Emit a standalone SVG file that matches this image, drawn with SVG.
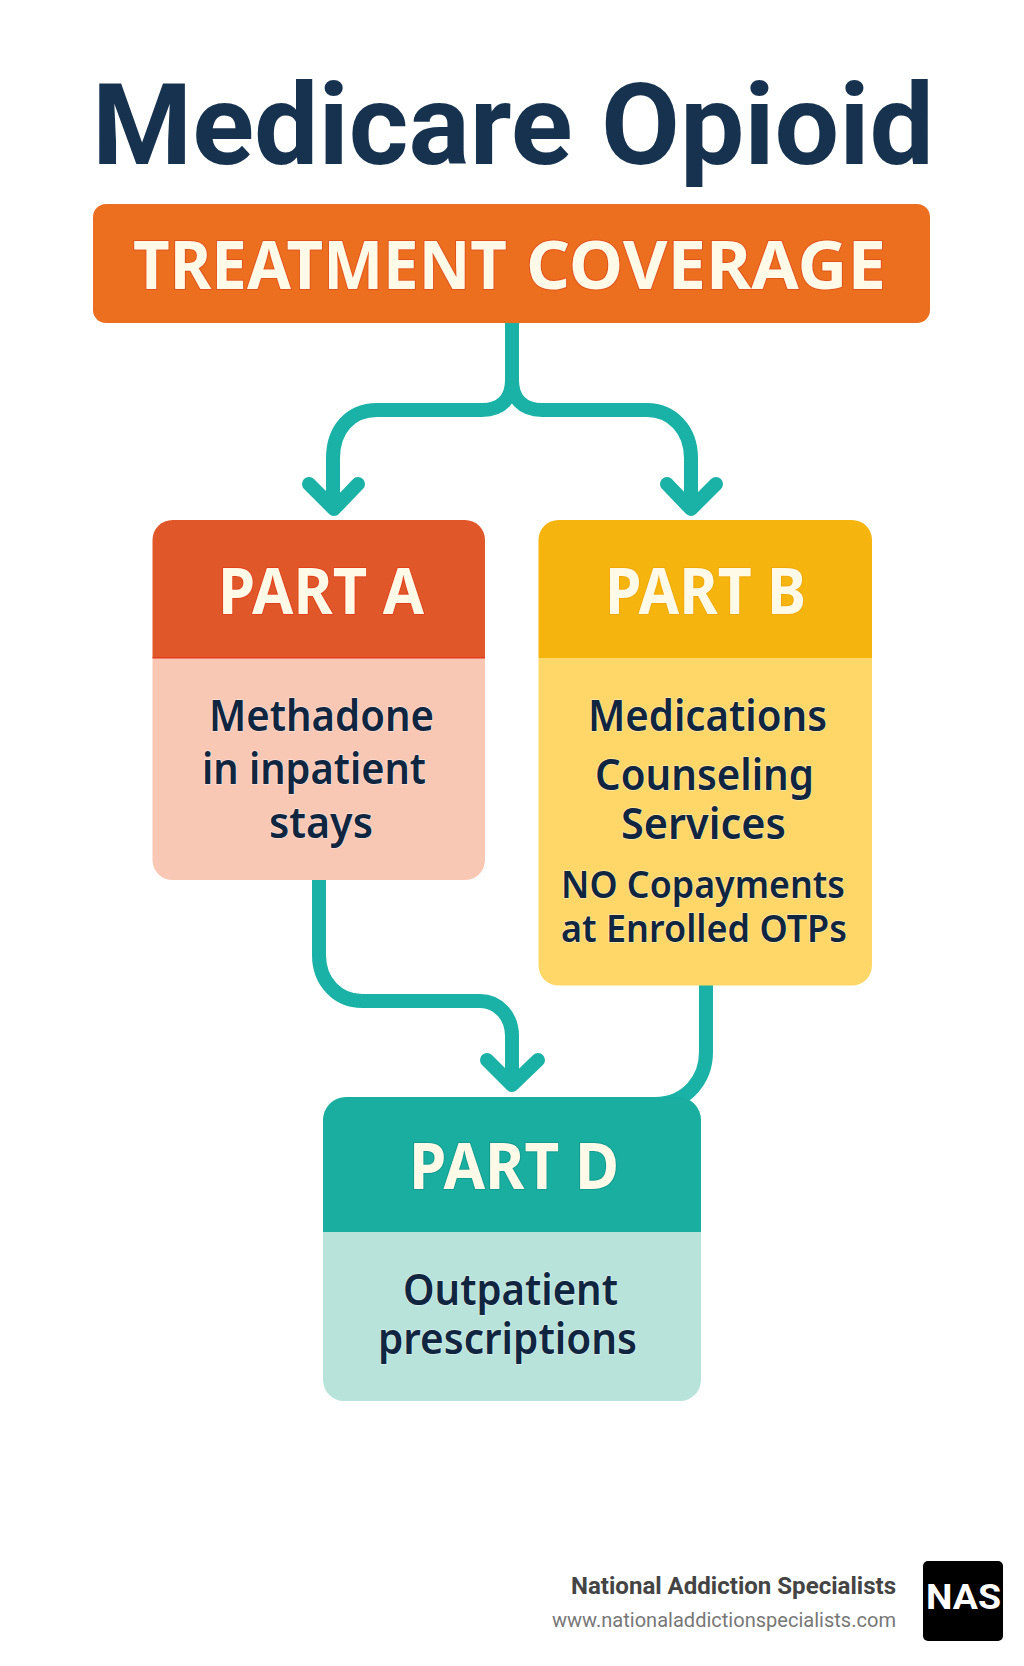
<svg xmlns="http://www.w3.org/2000/svg" width="1024" height="1666" viewBox="0 0 1024 1666">
<defs><style>
text{font-family:"Noto Sans","Open Sans","Liberation Sans",sans-serif}
.title{font-family:Roboto,"Noto Sans",sans-serif;font-size:113px;font-weight:700;fill:#16324f}
.head{font-weight:700;fill:#fff9e8;paint-order:stroke;stroke-linejoin:round}
.body{font-weight:600;font-size:43px;fill:#0f2540;paint-order:stroke;stroke:#ffffff;stroke-opacity:.45;stroke-width:1.5px}
.small{font-size:38px}
.conn{fill:none;stroke:#1ab2a6;stroke-width:14;stroke-linejoin:round}
.tip{fill:none;stroke:#1ab2a6;stroke-width:14;stroke-linecap:round;stroke-linejoin:round}
</style></defs>
<rect width="1024" height="1666" fill="#ffffff"/>
<g id="connectors">
<path class="conn" d="M512 323V380C512 398 502 410 482 410H377C350 410 333 430 333 458V505"/>
<path class="conn" d="M512 323V380C512 398 522 410 542 410H647C672 410 691 430 691 458V505"/>
<path class="tip" d="M309 484L334 509L358 484"/>
<path class="tip" d="M667 484L691 509L716 484"/>
<path class="conn" d="M319 880V955C319 982 338 1001 362 1001H480C498 1001 512 1016 512 1036V1080"/>
<path class="tip" d="M487 1060L512 1085L538 1060"/>
<path class="conn" d="M706 985V1052C706 1078 688 1104 655 1104"/>
</g>
<g id="title"><text class="title" x="92" y="164" textLength="842" lengthAdjust="spacingAndGlyphs">Medicare Opioid</text></g>
<g id="treatment-coverage">
<rect x="93" y="204" width="837" height="119" rx="13" fill="#ec6f20"/>
<text class="head" y="289" font-size="67" stroke="#e2521a" stroke-width="2"><tspan x="133" textLength="374" lengthAdjust="spacingAndGlyphs">TREATMENT</tspan><tspan x="526" textLength="360" lengthAdjust="spacingAndGlyphs">COVERAGE</tspan></text>
</g>
<g id="part-a">
<path d="M152.500 658V540a20 20 0 0 1 20-20H465a20 20 0 0 1 20 20V658Z" fill="#e0582a"/>
<path d="M152.500 658H485V860a20 20 0 0 1-20 20H172.500a20 20 0 0 1-20-20Z" fill="#f9c8b5"/>
<rect x="152.500" y="657" width="332.500" height="1.500" fill="#e23c1c"/>
<text class="head" x="218" y="614" font-size="64" textLength="206" lengthAdjust="spacingAndGlyphs" stroke="#e2401c" stroke-width="2">PART A</text>
<text class="body" x="209" y="731" textLength="225" lengthAdjust="spacingAndGlyphs">Methadone</text>
<text class="body" x="202" y="784" textLength="224" lengthAdjust="spacingAndGlyphs">in inpatient</text>
<text class="body" x="269" y="838" textLength="104" lengthAdjust="spacingAndGlyphs">stays</text>
</g>
<g id="part-b">
<path d="M538.500 658V540a20 20 0 0 1 20-20H852a20 20 0 0 1 20 20V658Z" fill="#f5b50e"/>
<path d="M538.500 658H872V965.500a20 20 0 0 1-20 20H558.500a20 20 0 0 1-20-20Z" fill="#ffd768"/>
<text class="head" x="605" y="614" font-size="64" textLength="201" lengthAdjust="spacingAndGlyphs" stroke="#f0a808" stroke-width="2">PART B</text>
<text class="body" x="588" y="731" textLength="239" lengthAdjust="spacingAndGlyphs">Medications</text>
<text class="body" x="595" y="790" textLength="219" lengthAdjust="spacingAndGlyphs">Counseling</text>
<text class="body" x="621" y="839" textLength="165" lengthAdjust="spacingAndGlyphs">Services</text>
<text class="body small" x="561" y="898" textLength="284" lengthAdjust="spacingAndGlyphs">NO Copayments</text>
<text class="body small" x="561" y="942" textLength="286" lengthAdjust="spacingAndGlyphs">at Enrolled OTPs</text>
</g>
<g id="part-d">
<path d="M323 1232V1120a23 23 0 0 1 23-23H678a23 23 0 0 1 23 23V1232Z" fill="#19aea0"/>
<path d="M323 1232H701V1380a21 21 0 0 1-21 21H344a21 21 0 0 1-21-21Z" fill="#b8e3da"/>
<text class="head" x="409" y="1189" font-size="64" textLength="210" lengthAdjust="spacingAndGlyphs" stroke="#109c90" stroke-width="2">PART D</text>
<text class="body" x="403" y="1305" textLength="215" lengthAdjust="spacingAndGlyphs">Outpatient</text>
<text class="body" x="378" y="1354" textLength="259" lengthAdjust="spacingAndGlyphs">prescriptions</text>
</g>
<g id="footer">
<text x="571" y="1594" font-size="24" font-weight="700" fill="#444444" textLength="325" lengthAdjust="spacingAndGlyphs" style="font-family:Roboto,'Liberation Sans',sans-serif">National Addiction Specialists</text>
<text x="552" y="1627" font-size="21" fill="#777777" textLength="344" lengthAdjust="spacingAndGlyphs" style="font-family:Roboto,'Liberation Sans',sans-serif">www.nationaladdictionspecialists.com</text>
<rect x="923" y="1561" width="80" height="80" rx="5" fill="#000000"/>
<text x="926" y="1609" font-size="35" font-weight="700" fill="#ffffff" textLength="75" lengthAdjust="spacingAndGlyphs" style="font-family:Roboto,'Liberation Sans',sans-serif">NAS</text>
</g>
</svg>
